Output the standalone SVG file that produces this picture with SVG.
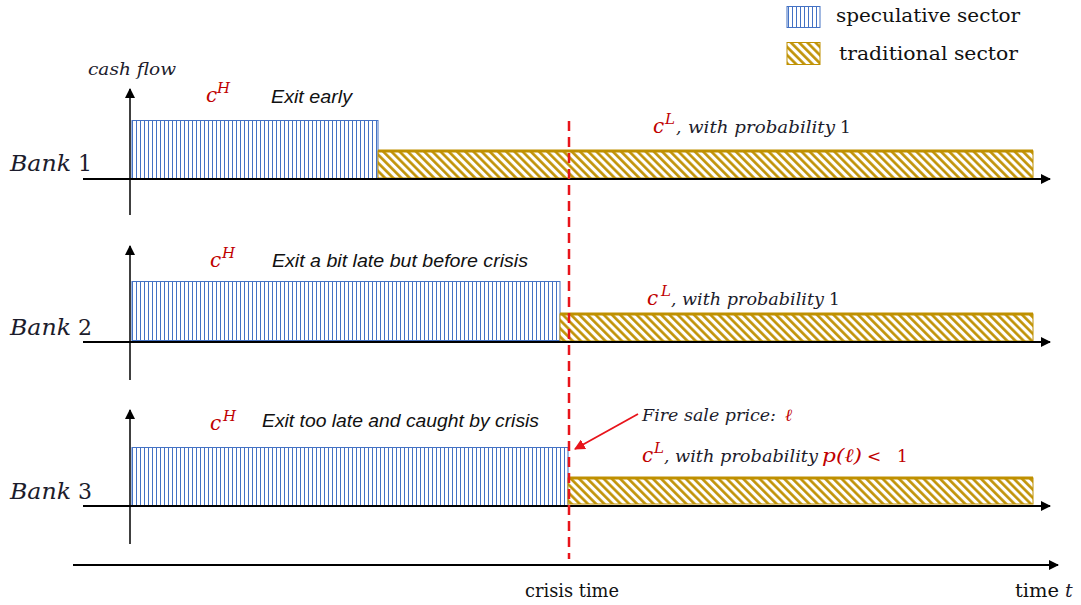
<svg xmlns="http://www.w3.org/2000/svg" width="1081" height="605" viewBox="0 0 1081 605">
<style>
.math{font-family:"DejaVu Serif","Liberation Serif",serif;font-style:italic;fill:#1c1c2c}
.up{font-family:"DejaVu Serif","Liberation Serif",serif;font-style:normal}
.red{fill:#C00000}
.lbl{font-family:"Liberation Sans","DejaVu Sans",sans-serif;font-style:italic;font-size:18.5px;fill:#111}
.leg{font-family:"DejaVu Serif","Liberation Serif",serif;font-size:18px;fill:#111}
.spec{fill:url(#vhatch);stroke:#4472C4;stroke-width:1}
.trad{fill:url(#dhatch);stroke:#BF9000;stroke-width:1}
.tradtop{stroke:#BF9000;stroke-width:3}
.vax{stroke:#404040;stroke-width:2;marker-end:url(#ah)}
.hax{stroke:#000;stroke-width:2;marker-end:url(#ah)}
</style>
<defs>
<pattern id="vhatch" patternUnits="userSpaceOnUse" width="4" height="10">
<rect width="4" height="10" fill="#fff"/>
<line x1="0.5" y1="0" x2="0.5" y2="10" stroke="#4472C4" stroke-width="1"/>
</pattern>
<pattern id="dhatch" patternUnits="userSpaceOnUse" width="5.8" height="10" patternTransform="rotate(-45)">
<rect width="5.8" height="10" fill="#fff"/>
<line x1="1.4" y1="0" x2="1.4" y2="10" stroke="#BF9000" stroke-width="2.6"/>
</pattern>
<marker id="ah" viewBox="0 0 10 10" refX="9" refY="5" markerWidth="5" markerHeight="5" orient="auto" markerUnits="strokeWidth">
<path d="M0,0 L10,5 L0,10 z" fill="#000"/>
</marker>
<marker id="rah" viewBox="0 0 10 10" refX="9" refY="5" markerWidth="6" markerHeight="6" orient="auto" markerUnits="strokeWidth">
<path d="M0,0 L10,5 L0,10 z" fill="#E8141B"/>
</marker>
</defs>

<g id="legend">
<rect x="787" y="6.5" width="33" height="21" class="spec" stroke-width="1.5"/>
<text x="836" y="22" class="leg" textLength="184" lengthAdjust="spacingAndGlyphs">speculative sector</text>
<rect x="787" y="42.5" width="33" height="22" class="trad" stroke-width="1.5"/>
<text x="839" y="60" class="leg" textLength="179" lengthAdjust="spacingAndGlyphs">traditional sector</text>
</g>

<g id="bank1">
<rect x="132" y="120.5" width="246" height="58" class="spec"/>
<rect x="378" y="151" width="655" height="27" class="trad"/>
<line x1="378" y1="151" x2="1033" y2="151" class="tradtop"/>
<line x1="130" y1="215" x2="130" y2="89" class="vax"/>
<line x1="83" y1="179" x2="1050" y2="179" class="hax"/>
<text x="88" y="75" class="math" font-size="16.5" textLength="88" lengthAdjust="spacingAndGlyphs">cash flow</text>
<text x="10" y="171" class="math" font-size="22" textLength="61" lengthAdjust="spacingAndGlyphs">Bank</text>
<text x="78" y="171" class="up" font-size="22" fill="#1c1c2c">1</text>
<text x="206" y="102" class="math red" font-size="20">c</text>
<text x="217" y="93" class="math red" font-size="15">H</text>
<text x="271" y="103" class="lbl" textLength="81" lengthAdjust="spacingAndGlyphs">Exit early</text>
<text x="653" y="133" class="math red" font-size="20">c</text>
<text x="665" y="124" class="math red" font-size="15">L</text>
<text x="676" y="133" class="math" font-size="17">,</text>
<text x="688" y="133" class="math" font-size="17" textLength="147" lengthAdjust="spacingAndGlyphs">with probability</text>
<text x="840" y="133" class="up" font-size="17" fill="#1c1c2c">1</text>
</g>

<g id="bank2">
<rect x="132" y="281.5" width="428" height="59" class="spec"/>
<rect x="560" y="314" width="473" height="27" class="trad"/>
<line x1="560" y1="314" x2="1033" y2="314" class="tradtop"/>
<line x1="130" y1="380" x2="130" y2="246" class="vax"/>
<line x1="83" y1="342" x2="1050" y2="342" class="hax"/>
<text x="10" y="335" class="math" font-size="22" textLength="61" lengthAdjust="spacingAndGlyphs">Bank</text>
<text x="78" y="335" class="up" font-size="22" fill="#1c1c2c">2</text>
<text x="210" y="267" class="math red" font-size="20">c</text>
<text x="222" y="258" class="math red" font-size="15">H</text>
<text x="272" y="267" class="lbl" textLength="256" lengthAdjust="spacingAndGlyphs">Exit a bit late but before crisis</text>
<text x="647" y="305" class="math red" font-size="20">c</text>
<text x="661" y="296" class="math red" font-size="15">L</text>
<text x="671" y="305" class="math" font-size="17">,</text>
<text x="682" y="305" class="math" font-size="17" textLength="142" lengthAdjust="spacingAndGlyphs">with probability</text>
<text x="829" y="305" class="up" font-size="17" fill="#1c1c2c">1</text>
</g>

<g id="bank3">
<rect x="132" y="447.5" width="436" height="58" class="spec"/>
<rect x="568" y="478" width="465" height="26" class="trad"/>
<line x1="568" y1="478" x2="1033" y2="478" class="tradtop"/>
<line x1="130" y1="544" x2="130" y2="410" class="vax"/>
<line x1="83" y1="506" x2="1050" y2="506" class="hax"/>
<text x="10" y="499" class="math" font-size="22" textLength="61" lengthAdjust="spacingAndGlyphs">Bank</text>
<text x="78" y="499" class="up" font-size="22" fill="#1c1c2c">3</text>
<text x="210" y="430" class="math red" font-size="20">c</text>
<text x="223" y="421" class="math red" font-size="15">H</text>
<text x="262" y="427" class="lbl" textLength="277" lengthAdjust="spacingAndGlyphs">Exit too late and caught by crisis</text>
<text x="642" y="421" class="math" font-size="17" textLength="134" lengthAdjust="spacingAndGlyphs">Fire sale price:</text>
<text x="785" y="421" class="math red" font-size="17">ℓ</text>
<text x="642" y="462" class="math red" font-size="20">c</text>
<text x="654" y="453" class="math red" font-size="15">L</text>
<text x="664" y="462" class="math" font-size="17">,</text>
<text x="675" y="462" class="math" font-size="17" textLength="143" lengthAdjust="spacingAndGlyphs">with probability</text>
<text x="822" y="462" class="math red" font-size="19" textLength="40" lengthAdjust="spacingAndGlyphs">p(ℓ)</text>
<text x="867" y="462" class="up red" font-size="17">&lt;</text>
<text x="897" y="462" class="up red" font-size="17">1</text>
</g>

<g id="timeline">
<line x1="73" y1="565" x2="1058" y2="565" class="hax"/>
<text x="525" y="597" class="leg" textLength="94" lengthAdjust="spacingAndGlyphs">crisis time</text>
<text x="1015" y="597" class="leg" textLength="44" lengthAdjust="spacingAndGlyphs">time</text>
<text x="1065" y="597" class="math" font-size="19">t</text>
</g>

<g id="connectors">
<line x1="569" y1="121" x2="569" y2="559" stroke="#E8141B" stroke-width="2.5" stroke-dasharray="10,6"/>
<line x1="638" y1="414" x2="575" y2="449" stroke="#E8141B" stroke-width="1.8" marker-end="url(#rah)"/>
</g>
</svg>
